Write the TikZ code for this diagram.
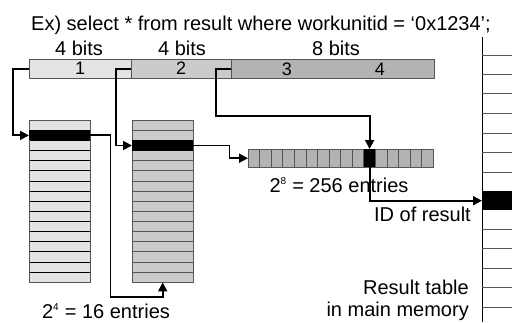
\documentclass[tikz,border=0pt]{standalone}
\usepackage{fontspec}
\setmainfont{Liberation Sans}
\usetikzlibrary{arrows.meta}
\newcommand{\rowHeight}[0]{10.125}
\newcommand{\cellWidth}[0]{11.5625}
\newcommand{\linkWidth}[0]{1.8pt}
\definecolor{lightgrey}{HTML}{E3E3E3}
\definecolor{midgrey}{HTML}{CBCBCB}
\definecolor{darkgrey}{HTML}{B3B3B3}
\definecolor{edgegrey}{HTML}{555555}

\begin{document}
\begin{tikzpicture}[x=1pt, y=-1pt]
  \tikzset{every node/.style={font=\fontsize{20}{22}\selectfont, inner sep=0pt},
    field/.style={draw=edgegrey, minimum height=19pt, anchor=north west,
      font=\fontsize{18}{20}\selectfont},
    blackrow/.style={fill=black, anchor=north west},
    link/.style={line width=\linkWidth, -{Triangle[length=9pt,width=9pt]}}}
  \useasboundingbox (0,0) rectangle (512,322);
  % query and bit fields
  \node[anchor=base] (query) at (261,30.5) {Ex) select * from result where workunitid = ‘0x1234’;};
  \node[anchor=base] (bits-1) at (79,55) {4 bits};
  \node[anchor=base] (bits-2) at (182,55) {4 bits};
  \node[anchor=base] (bits-3) at (336,55) {8 bits};
  \node[field, fill=lightgrey, minimum width=102pt] (field-1) at (29,59) {1};
  \node[field, fill=midgrey, minimum width=100pt] (field-2) at (131,59) {2};
  \node[field, fill=darkgrey, minimum width=203pt] (field-3) at (231,59) {};
  \node[anchor=base, font=\fontsize{18}{20}\selectfont] (num-3) at (287,75.5) {3};
  \node[anchor=base, font=\fontsize{18}{20}\selectfont] (num-4) at (380,75.5) {4};
  % first level tables
  \foreach \i in {0,...,15} {
    \draw[fill=lightgrey] (29,120+\i*\rowHeight) rectangle ++(61,\rowHeight);
    \draw[draw=edgegrey, fill=midgrey] (132,120+\i*\rowHeight) rectangle ++(61,\rowHeight);
  }
  \node[draw=edgegrey, minimum width=61pt, minimum height=162pt, anchor=north west] (table-1) at (29,120) {};
  \node[draw=edgegrey, minimum width=61pt, minimum height=162pt, anchor=north west] (table-2) at (132,120) {};
  \node[blackrow, minimum width=61pt, minimum height=\rowHeight pt] (row-1) at (29,120+\rowHeight) {};
  \node[blackrow, minimum width=61pt, minimum height=\rowHeight pt] (row-2) at (132,120+2*\rowHeight) {};
  \node[anchor=base] (entries-16) at (106,318) {2\textsuperscript{\fontsize{10}{10}\selectfont 4} = 16 entries};
  % second level array
  \foreach \i in {0,...,15}
    \draw[draw=edgegrey, fill=darkgrey] (248+\i*\cellWidth,149) rectangle ++(\cellWidth,18);
  \node[minimum width=185pt, minimum height=18pt, anchor=north west] (array) at (248,149) {};
  \node[blackrow, minimum width=\cellWidth pt, minimum height=18pt] (cell-256) at (248+10*\cellWidth,149) {};
  \node[anchor=base] (entries-256) at (339,192) {2\textsuperscript{\fontsize{10}{10}\selectfont 8} = 256 entries};
  % result table
  \draw[line width=1pt] (482,37) -- (482,322);
  \foreach \y in {55,74,93,113,133,152,172,229,248,268,287,307}
    \draw[draw=edgegrey, line width=0.9pt] (482,\y) -- (512,\y);
  \node[blackrow, minimum width=31pt, minimum height=19pt] (result-row) at (482,191) {};
  \node[anchor=base east] (result-id) at (471,221.5) {ID of result};
  \node[anchor=base east, align=right] (result-table) at (469,294) {Result table};
  \node[anchor=base east, align=right] (result-memory) at (469,316) {in main memory};
  % links
  \draw[link] (field-1.west) -- ++(-16,0) |- (row-1.west);
  \draw[link] (field-2.west) -- ++(-15,0) |- (row-2.west);
  \draw[link] (field-3.west) -- ++(-15,0) -- ++(0,47) -| (cell-256.north);
  \draw[link] (row-1.east) -- ++(20,0) -- ++(0,162) -| (table-2.south);
  \draw[link] (row-2.east) -- ++(36,0) |- (array.west);
  \draw[link] (cell-256.south) |- (result-row.west);
\end{tikzpicture}
\end{document}
